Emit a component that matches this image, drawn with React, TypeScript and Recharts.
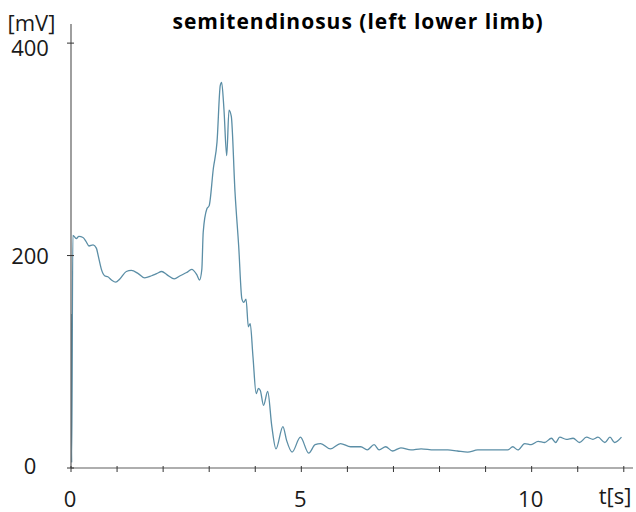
import React from 'react';
import { LineChart, Line, XAxis, YAxis } from 'recharts';

const times: number[] = [
  0, 0.015, 0.04, 0.115, 0.17, 0.26, 0.33, 0.39, 0.48, 0.55, 0.6, 0.66, 0.73, 0.8, 0.88, 0.97,
  1.06, 1.2, 1.31, 1.46, 1.6, 1.75, 1.86, 1.97, 2.08, 2.24, 2.37, 2.51, 2.62, 2.73, 2.79, 2.84,
  2.87, 2.95, 3.0, 3.09, 3.17, 3.24, 3.27, 3.32, 3.38, 3.43, 3.48, 3.56, 3.64, 3.71, 3.75, 3.8,
  3.85, 3.89, 3.95, 4.02, 4.07, 4.11, 4.18, 4.27, 4.36, 4.45, 4.6, 4.68, 4.8, 4.98, 5.16, 5.3,
  5.42, 5.63, 5.85, 6.07, 6.29, 6.43, 6.58, 6.69, 6.83, 6.98, 7.16, 7.38, 7.6, 7.88, 8.18, 8.39,
  8.61, 8.83, 9.05, 9.27, 9.48, 9.59, 9.7, 9.85, 9.99, 10.14, 10.28, 10.43, 10.52, 10.61, 10.75,
  10.9, 11.04, 11.19, 11.33, 11.44, 11.59, 11.7, 11.8, 11.95,
];

const voltages: number[] = [
  145, 5, 219, 216, 218, 217, 213, 209, 210, 207, 198, 187, 181, 180, 177, 175,
  178, 185, 186, 183, 179, 181, 183, 185, 182, 178, 181, 184, 187, 182, 177, 187,
  222, 244, 247, 282, 307, 360, 363, 338, 294, 337, 331, 260, 209, 159, 156, 159,
  133, 136, 105, 70, 75, 73, 59, 72, 39, 18, 39, 26, 15, 29, 14, 22,
  23, 18, 23, 20, 20, 17, 22, 17, 20, 16, 19, 17, 18, 17, 17, 16,
  15, 17, 17, 17, 17, 20, 17, 23, 22, 25, 24, 28, 24, 29, 27,
  28, 24, 29, 27, 29, 24, 29, 24, 29,
];

const xTicks: number[] = [0, 1, 2, 3, 4, 5, 6, 7, 8, 9, 10, 11, 12];
const xLabeled: number[] = [0, 5, 10];
const yTicks: number[] = [0, 200, 400];

const title = 'semitendinosus (left lower limb)';
const yUnit = '[mV]';
const xUnit = 't[s]';

const data = times.map((t, i) => ({ t, v: voltages[i] }));

const FONT = '"Open Sans", "Noto Sans", sans-serif';
const TEXT = '#1a1a1a';
const TICK = '#333';
const AXIS = '#5e5e5e';
const LINE = '#5b8ea6';

const Y_MARGIN = 41;
const X_MARGIN = 20;

const YTick = (props: any) => {
  const { x, y, payload } = props;
  const ax = x + Y_MARGIN;
  const shift = payload.value === 400 ? 5 : payload.value === 0 ? -2 : 0;
  return (
    <g>
      <line x1={ax - 4} x2={ax + 3} y1={y} y2={y} stroke={TICK} strokeWidth={1} />
      <text x={x} y={y + 8 + shift} textAnchor="middle" fill={TEXT} fontSize={22} fontFamily={FONT}>
        {payload.value}
      </text>
    </g>
  );
};

const XTick = (props: any) => {
  const { x, y, payload } = props;
  const ay = y - X_MARGIN;
  return (
    <g>
      <line x1={x} x2={x} y1={ay - 2} y2={ay + 4} stroke={TICK} strokeWidth={1} />
      {xLabeled.includes(payload.value) ? (
        <text x={x - 1} y={ay + 39} textAnchor="middle" fill={TEXT} fontSize={22} fontFamily={FONT}>
          {payload.value}
        </text>
      ) : null}
    </g>
  );
};

export default function App() {
  return (
    <div style={{ position: 'absolute', left: 0, top: 0, width: 636, height: 512, background: '#fff' }}>
      <LineChart width={636} height={512} data={data} margin={{ top: 24, right: 3, bottom: 0, left: 0 }}>
        <XAxis
          dataKey="t"
          type="number"
          domain={[0, 12.2]}
          ticks={xTicks}
          interval={0}
          height={44}
          tickSize={0}
          tickMargin={X_MARGIN}
          tick={<XTick />}
          axisLine={{ stroke: AXIS, strokeWidth: 1.2 }}
          allowDataOverflow
        />
        <YAxis
          type="number"
          domain={[0, 418]}
          ticks={yTicks}
          interval={0}
          width={71}
          tickSize={0}
          tickMargin={Y_MARGIN}
          tick={<YTick />}
          axisLine={{ stroke: AXIS, strokeWidth: 1.2 }}
          allowDataOverflow
        />
        <Line
          type="monotone"
          dataKey="v"
          stroke={LINE}
          strokeWidth={1.3}
          dot={false}
          isAnimationActive={false}
        />
      </LineChart>
      <svg width={636} height={512} style={{ position: 'absolute', left: 0, top: 0, pointerEvents: 'none' }}>
        <text x={358} y={28.5} textAnchor="middle" fontSize={21} fontWeight={700} letterSpacing={1} fill="#000" fontFamily={FONT}>
          {title}
        </text>
        <text x={31.5} y={31} textAnchor="middle" fontSize={22} fill={TEXT} fontFamily={FONT}>
          {yUnit}
        </text>
        <text x={615} y={504} textAnchor="middle" fontSize={22} fill={TEXT} fontFamily={FONT}>
          {xUnit}
        </text>
      </svg>
    </div>
  );
}
